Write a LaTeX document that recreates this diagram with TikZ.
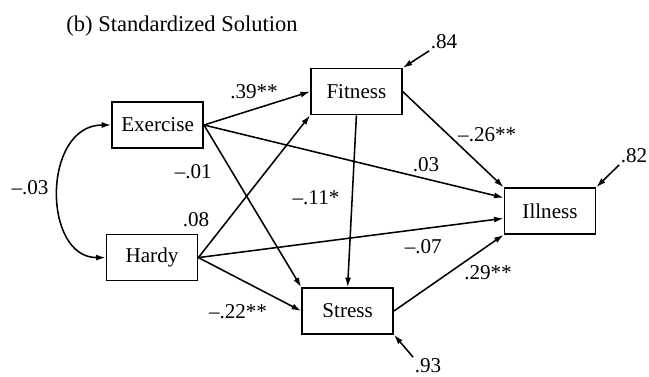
\documentclass[tikz,border=0pt]{standalone}
\usepackage{fontspec}
\setmainfont{Liberation Serif}
\usepackage{tikz}
\usetikzlibrary{arrows.meta}

\begin{document}
\begin{tikzpicture}[
        >={Latex[length=2.4mm,width=1.5mm]},
        var/.style  = {rectangle, draw, line width=1.1pt, minimum width=2.28cm, minimum height=1.15cm, inner sep=0pt},
        coef/.style = {inner sep=1pt},
        path/.style = {->, line width=1.1pt},
        font = \fontsize{15}{18}\selectfont
    ]
        \useasboundingbox (0,0) rectangle (16.225,9.4);
        \node[font=\fontsize{16}{19}\selectfont] (title) at (4.55,8.75) {(b) Standardized Solution};

        \node[var] (ex) at (3.94,6.275) {Exercise};
        \node[var] (ha) at (3.80,2.96)  {Hardy};
        \node[var] (fi) at (8.91,7.11)  {Fitness};
        \node[var] (st) at (8.69,1.625) {Stress};
        \node[var] (il) at (13.75,4.125) {Illness};

        \node[coef] (c39) at (6.35,7.10)  {.39**};
        \node[coef] (c01) at (4.83,5.10)  {--.01};
        \node[coef] (c03) at (0.75,4.70)  {--.03};
        \node[coef] (c08) at (4.90,3.90)  {.08};
        \node[coef] (c11) at (7.90,4.45)  {--.11*};
        \node[coef] (c26) at (12.18,6.03) {--.26**};
        \node[coef] (e03) at (10.65,5.28) {.03};
        \node[coef] (c07) at (10.58,3.23) {--.07};
        \node[coef] (c29) at (12.20,2.58) {.29**};
        \node[coef] (c22) at (5.95,1.60)  {--.22**};
        \node[coef] (r84) at (11.10,8.35) {.84};
        \node[coef] (r82) at (15.85,5.50) {.82};
        \node[coef] (r93) at (10.70,0.25) {.93};

        \draw[path, <->] (ex.west) .. controls (1.05,6.275) and (1.05,2.96) .. (ha.west);
        \draw[path] (ex.east) -- (fi.west);
        \draw[path] (ex.east) -- (il.164);
        \draw[path] (ex.east) -- (st.north west);
        \draw[path] (ha.east) -- (fi.south west);
        \draw[path] (ha.east) -- (il.189);
        \draw[path] (ha.east) -- (st.west);
        \draw[path] (fi.east) -- (il.north west);
        \draw[path] (fi.south) -- (st.north);
        \draw[path] (st.east) -- (il.south west);
        \draw[path] (r84.south west) -- (fi.north east);
        \draw[path] (r82.south west) -- (il.north east);
        \draw[path] (r93.north west) -- (st.south east);
    \end{tikzpicture}
\end{document}
